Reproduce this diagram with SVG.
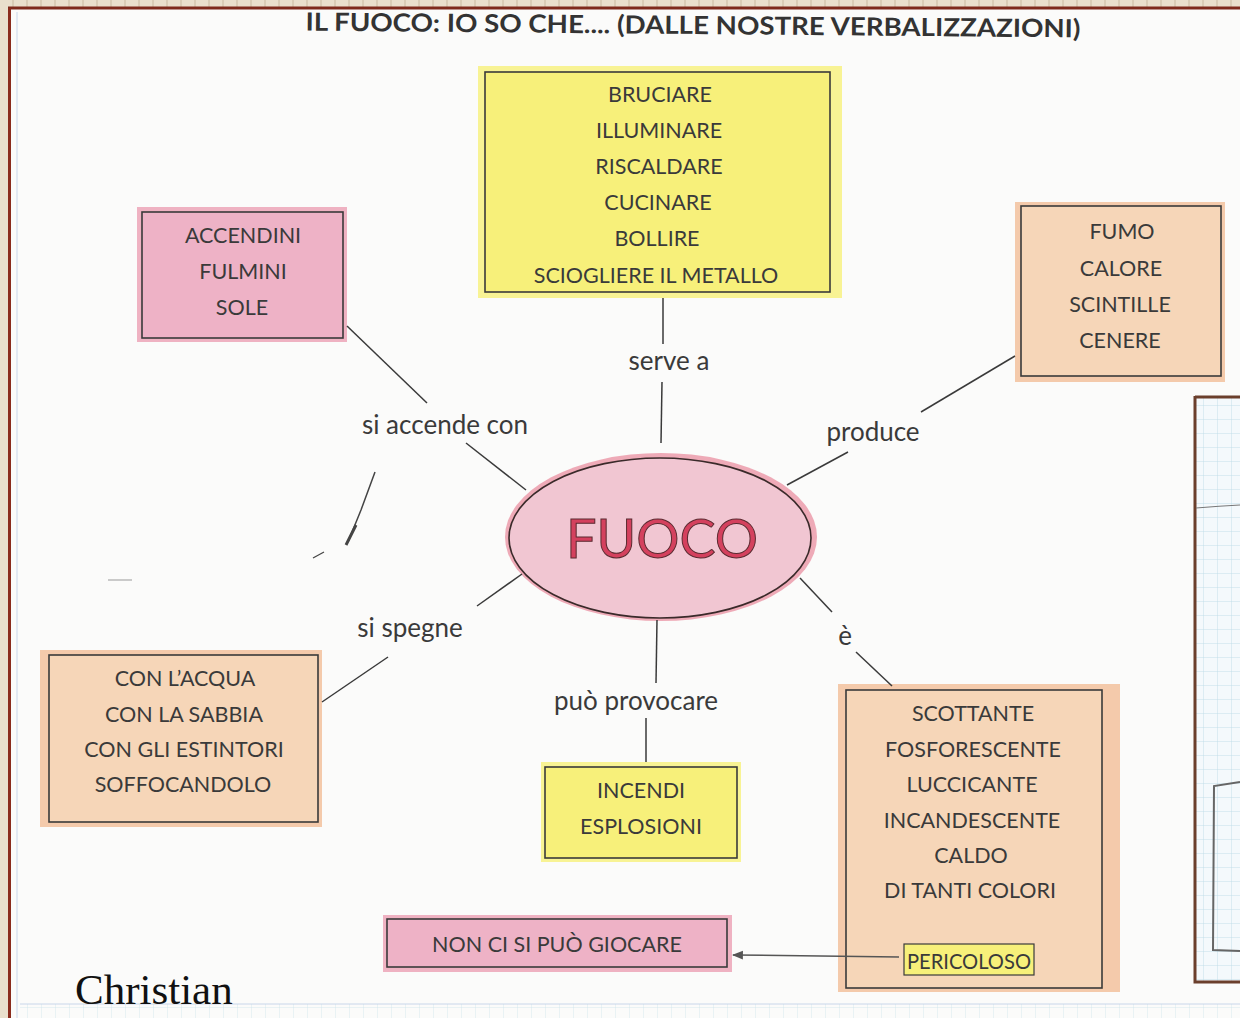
<svg xmlns="http://www.w3.org/2000/svg" width="1240" height="1018" viewBox="0 0 1240 1018">
<defs>
<style>
.t{font-family:Lato,"Open Sans","Liberation Sans",sans-serif;font-size:21.5px;fill:#3a3a3a;text-anchor:middle}
.lbl{font-family:Lato,"Open Sans","Liberation Sans",sans-serif;font-size:26px;fill:#3a3a3a;text-anchor:middle}
.box{stroke:#3a3a3a;stroke-width:1.6}
.yel{fill:#f7f07a}
.pink{fill:#eeb2c6}
.orng{fill:#f6d6b8}
.c{stroke:#3a3a3a;stroke-width:1.5;fill:none}
</style>
<pattern id="grid" width="14" height="14" patternUnits="userSpaceOnUse">
<path d="M14 0V14M0 14H14" stroke="#b9d8e6" stroke-width="0.8" fill="none"/>
</pattern>
<pattern id="topgrid" width="14" height="8" patternUnits="userSpaceOnUse">
<rect width="14" height="8" fill="#e9dfcc"/>
<path d="M13 0V8" stroke="#c9b9a0" stroke-width="1"/>
</pattern>
<marker id="arr" viewBox="0 0 10 10" refX="9" refY="5" markerWidth="11" markerHeight="11" orient="auto-start-reverse" markerUnits="userSpaceOnUse">
<path d="M0 1L10 5L0 9z" fill="#555"/>
</marker>
</defs>

<!-- page -->
<rect width="1240" height="1018" fill="#fbfbfa"/>
<rect x="0" y="0" width="1240" height="8" fill="url(#topgrid)"/>
<line x1="0" y1="8" x2="1240" y2="8" stroke="#7e2a1c" stroke-width="3"/>
<rect x="0" y="0" width="8" height="1018" fill="#e9dfcc"/>
<line x1="9.5" y1="8" x2="9.5" y2="1018" stroke="#8a2b1c" stroke-width="3"/>
<line x1="17" y1="12" x2="17" y2="1018" stroke="#c9d6ea" stroke-width="1"/>
<line x1="20" y1="1004" x2="1240" y2="1004" stroke="#c9d6ea" stroke-width="1"/>
<rect x="20" y="1004" width="1220" height="14" fill="url(#grid)" opacity="0.7"/>

<!-- right partial sheet -->
<g id="side-sheet">
<rect x="1194" y="396" width="46" height="586" fill="#f4f9fc"/>
<rect x="1194" y="396" width="46" height="586" fill="url(#grid)"/>
<path d="M1195 396V982H1240" stroke="#6b3f2c" stroke-width="3" fill="none"/>
<line x1="1195" y1="397" x2="1240" y2="397" stroke="#6b3f2c" stroke-width="3"/>
<path d="M1196 508Q1220 506 1240 505" stroke="#777" stroke-width="1" fill="none"/>
<path d="M1240 782L1214 786L1213 950L1240 951" stroke="#666" stroke-width="2" fill="none"/>
</g>

<!-- pencil marks -->
<g stroke="#444" fill="none">
<path d="M375 472L361 510L348 542" stroke-width="1.5"/>
<path d="M356 525L346 545" stroke-width="3"/>
<path d="M324 552L313 558" stroke-width="1.2"/>
<path d="M108 580H132" stroke-width="1" stroke="#999"/>
</g>

<!-- title -->
<text x="693" y="34" style="font-family:Lato,'Open Sans','Liberation Sans',sans-serif;font-size:25px;font-weight:bold;fill:#333;text-anchor:middle" textLength="775" lengthAdjust="spacingAndGlyphs" transform="rotate(0.5 693 28)">IL FUOCO: IO SO CHE.... (DALLE NOSTRE VERBALIZZAZIONI)</text>

<!-- central node -->
<g id="fuoco">
<ellipse cx="661" cy="537" rx="156" ry="84" fill="#e3677f" opacity="0.55"/>
<ellipse cx="660" cy="538" rx="151" ry="80" fill="#f1c6d2" stroke="#3a2a2a" stroke-width="1.6"/>
<text x="662" y="558" style="font-family:Lato,'Open Sans','Liberation Sans',sans-serif;font-size:54px;fill:#d4415e;stroke:#5a2a30;stroke-width:1;text-anchor:middle">FUOCO</text>
</g>

<!-- serve a -->
<g id="serve">
<rect x="478" y="66" width="364" height="232" fill="#f7ee50" opacity="0.6"/>
<rect class="box yel" x="485" y="72" width="345" height="220"/>
<text class="t" x="660" y="102">BRUCIARE</text>
<text class="t" x="659" y="138">ILLUMINARE</text>
<text class="t" x="659" y="174">RISCALDARE</text>
<text class="t" x="658" y="210">CUCINARE</text>
<text class="t" x="657" y="246">BOLLIRE</text>
<text class="t" x="656" y="283">SCIOGLIERE  IL METALLO</text>
</g>

<!-- si accende con -->
<g id="accende">
<rect x="137" y="207" width="210" height="135" fill="#e0587e" opacity="0.45"/>
<rect class="box pink" x="142" y="212" width="201" height="126"/>
<text class="t" x="243" y="243">ACCENDINI</text>
<text class="t" x="243" y="279">FULMINI</text>
<text class="t" x="242" y="315">SOLE</text>
</g>

<!-- produce -->
<g id="produce">
<rect x="1015" y="202" width="210" height="180" fill="#ee9a5c" opacity="0.5"/>
<rect class="box orng" x="1021" y="206" width="200" height="170"/>
<text class="t" x="1122" y="239">FUMO</text>
<text class="t" x="1121" y="276">CALORE</text>
<text class="t" x="1120" y="312">SCINTILLE</text>
<text class="t" x="1120" y="348">CENERE</text>
</g>

<!-- si spegne -->
<g id="spegne">
<rect x="40" y="650" width="282" height="177" fill="#ee9a5c" opacity="0.5"/>
<rect class="box orng" x="49" y="655" width="269" height="167"/>
<text class="t" x="185" y="686">CON L’ACQUA</text>
<text class="t" x="184" y="722">CON LA SABBIA</text>
<text class="t" x="184" y="757">CON GLI ESTINTORI</text>
<text class="t" x="183" y="792">SOFFOCANDOLO</text>
</g>

<!-- può provocare -->
<g id="provocare">
<rect x="541" y="762" width="200" height="100" fill="#f7ee50" opacity="0.6"/>
<rect class="box yel" x="545" y="767" width="192" height="91"/>
<text class="t" x="641" y="798">INCENDI</text>
<text class="t" x="641" y="834">ESPLOSIONI</text>
</g>

<!-- è -->
<g id="e">
<rect x="838" y="684" width="282" height="308" fill="#ee9a5c" opacity="0.5"/>
<rect class="box orng" x="846" y="690" width="256" height="298"/>
<text class="t" x="973" y="721">SCOTTANTE</text>
<text class="t" x="973" y="757">FOSFORESCENTE</text>
<text class="t" x="972" y="792">LUCCICANTE</text>
<text class="t" x="972" y="828">INCANDESCENTE</text>
<text class="t" x="971" y="863">CALDO</text>
<text class="t" x="970" y="898">DI TANTI COLORI</text>
<rect x="904" y="944" width="130" height="31" fill="#f7f07a" stroke="#3a3a3a" stroke-width="1.2"/>
<text class="t" x="969" y="969" textLength="124" lengthAdjust="spacingAndGlyphs">PERICOLOSO</text>
</g>

<!-- non ci si può giocare -->
<g id="giocare">
<rect x="383" y="915" width="349" height="57" fill="#e0587e" opacity="0.45"/>
<rect class="box pink" x="387" y="919" width="340" height="48"/>
<text class="t" x="557" y="952">NON CI SI PUÒ GIOCARE</text>
</g>

<!-- connectors -->
<g id="connectors">
<line class="c" x1="663" y1="298" x2="663" y2="344"/>
<line class="c" x1="662" y1="382" x2="661" y2="443"/>
<line class="c" x1="347" y1="326" x2="427" y2="403"/>
<line class="c" x1="466" y1="443" x2="526" y2="490"/>
<line class="c" x1="1015" y1="356" x2="921" y2="412"/>
<line class="c" x1="848" y1="452" x2="787" y2="485"/>
<line class="c" x1="522" y1="574" x2="477" y2="606"/>
<line class="c" x1="388" y1="657" x2="322" y2="702"/>
<line class="c" x1="657" y1="620" x2="656" y2="683"/>
<line class="c" x1="646" y1="718" x2="646" y2="762"/>
<line class="c" x1="800" y1="578" x2="832" y2="612"/>
<line class="c" x1="856" y1="652" x2="892" y2="686"/>
<line x1="733" y1="955" x2="899" y2="957" stroke="#555" stroke-width="1.5" marker-start="url(#arr)"/>
<text class="lbl" x="669" y="370">serve a</text>
<text class="lbl" x="445" y="434">si accende con</text>
<text class="lbl" x="873" y="441">produce</text>
<text class="lbl" x="410" y="637">si spegne</text>
<text class="lbl" x="636" y="710">può provocare</text>
<text class="lbl" x="845" y="645">è</text>
</g>

<text x="75" y="1004" style="font-family:'Liberation Serif',serif;font-size:43px;fill:#111">Christian</text>
</svg>
